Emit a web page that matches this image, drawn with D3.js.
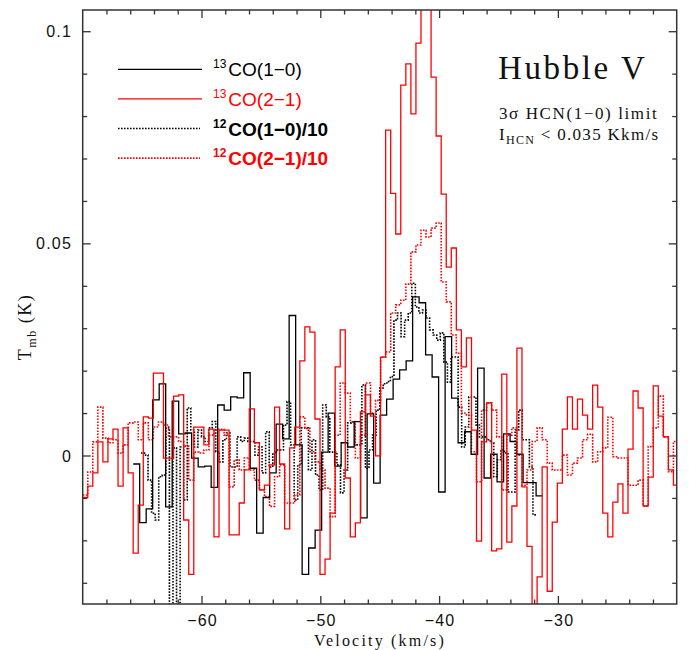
<!DOCTYPE html>
<html>
<head>
<meta charset="utf-8">
<style>
  body { margin: 0; background: #fff; }
  svg .tick line { stroke: #333; stroke-width: 1.3px; }
  svg .tick text { display: none; }
  svg .frame { fill: none; stroke: #333; stroke-width: 1.5px; }
  svg .spec { fill: none; stroke-width: 1.3px; stroke-linejoin: miter; }
  svg .dot { stroke-dasharray: 1.6, 1.4; stroke-width: 1.6px; }
  svg .ticklab { font: 16px "Liberation Sans", sans-serif; letter-spacing: 1.2px; fill: #111; }
  svg .serif { font-family: "Liberation Serif", serif; fill: #111; }
  svg .leg { font: 19px "Liberation Sans", sans-serif; }
</style>
</head>
<body>
<script src="https://d3js.org/d3.v7.min.js"></script>
<script>
// axis limits and ticks
var xDomain = [-70, -20],
    yDomain = [-0.035, 0.105];
var xTickVals = [-60, -50, -40, -30];
var xTickLabels = ["\u221260", "\u221250", "\u221240", "\u221230"];
var yTickVals = [0, 0.05, 0.1];
var yTickLabels = ["0", "0.05", "0.1"];

// 13CO(2-1): channels start at -70 km/s, 0.425 km/s wide
var co13_21_start = -70, co13_21_width = 0.425;
var co13_21 = [
  -0.0099, -0.0072, -0.0041, 0.0032, -0.0015, 0.0039, 0.0062, -0.0072, 0.0065, -0.0041,
  -0.0230, -0.0117, 0.0091, 0.0088, 0.0194, 0.0194, -0.0006, -0.0006, 0.0140, 0.0143,
  -0.0152, -0.0280, 0.0067, 0.0067, 0.0025, 0.0062, -0.0192, 0.0060, 0.0060, -0.0187,
  -0.0187, -0.0112, -0.0034, 0.0110, 0.0030, -0.0081, -0.0070, -0.0022, 0.0114, -0.0020,
  -0.0173, 0.0018, 0.0067, 0.0223, 0.0303, 0.0291, 0.0086, -0.0280, -0.0244, -0.0136,
  0.0209, 0.0296, -0.0053, -0.0192, -0.0159, 0.0103, 0.0143, 0.0093, -0.0001, 0.0232,
  0.0767, 0.0618, 0.0522, 0.0873, 0.0923, 0.0805, 0.0972, 0.1150, 0.1120, 0.0892,
  0.0753, 0.0616, 0.0444, 0.0489, 0.0296, 0.0209, 0.0277, 0.0060, -0.0202, 0.0032,
  0.0124, -0.0225, -0.0220, 0.0192, -0.0204, -0.0119, 0.0253, -0.0074, -0.0214, -0.0400,
  -0.0286, -0.0027, -0.0320, -0.0157, -0.0065, 0.0062, 0.0138, 0.0062, 0.0133, 0.0095,
  0.0062, 0.0166, 0.0114, -0.0136, -0.0192, -0.0110, -0.0067, -0.0136, 0.0015, 0.0152,
  0.0112, -0.0119, -0.0051, 0.0164, 0.0093, 0.0044, -0.0034, -0.0070
];

// 12CO(2-1)/10, same channel grid
var co12_21_start = -70, co12_21_width = 0.425;
var co12_21 = [
  -0.0093, -0.0039, 0.0032, 0.0114, 0.0041, 0.0030, 0.0037, 0.0006, 0.0025, 0.0077,
  0.0079, 0.0037, 0.0077, 0.0037, 0.0067, 0.0079, 0.0072, 0.0044, 0.0044, 0.0033,
  0.0022, -0.0058, 0.0008, 0.0006, 0.0013, 0.0048, 0.0060, 0.0062, 0.0048, -0.0074,
  -0.0011, -0.0034, -0.0006, -0.0034, -0.0058, -0.0081, -0.0097, -0.0120, -0.0050, -0.0022,
  -0.0112, -0.0112, -0.0093, 0.0091, 0.0064, 0.0009, -0.0015, -0.0034, -0.0077, -0.0144,
  0.0048, 0.0171, 0.0147, 0.0080, -0.0006, 0.0048, 0.0171, 0.0100, 0.0130, 0.0232,
  0.0244, 0.0336, 0.0355, 0.0366, 0.0404, 0.0480, 0.0496, 0.0531, 0.0515, 0.0536,
  0.0548, 0.0409, 0.0362, 0.0284, 0.0241, 0.0100, 0.0095, 0.0009, -0.0062, 0.0107,
  0.0124, 0.0107, 0.0044, -0.0081, 0.0048, 0.0065, 0.0001, -0.0070, -0.0034, 0.0033,
  0.0065, 0.0037, -0.0018, -0.0034, -0.0034, 0.0001, -0.0046, -0.0018, -0.0006, 0.0037,
  0.0050, -0.0015, 0.0009, 0.0018, 0.0090, -0.0003, -0.0006, -0.0006, -0.0070, -0.0070,
  -0.0058, -0.0119, 0.0021, 0.0065, 0.0140, 0.0044, -0.0038, 0.0033
];

// 13CO(1-0): channels start at -65.75 km/s, 0.547 km/s wide
var co13_10_start = -65.75, co13_10_width = 0.547;
var co13_10 = [
  -0.0020, -0.0158, -0.0126, 0.0131, 0.0169, -0.0121, 0.0128, 0.0051, 0.0053, -0.0006,
  -0.0027, -0.0025, -0.0075, 0.0119, 0.0107, 0.0138, 0.0136, 0.0195, -0.0030, -0.0183,
  -0.0099, -0.0041, 0.0074, 0.0039, 0.0330, 0.0025, -0.0280, -0.0218, -0.0176, 0.0008,
  0.0100, -0.0025, 0.0030, 0.0020, 0.0080, -0.0147, 0.0098, -0.0065, 0.0095, 0.0133,
  0.0180, 0.0202, 0.0223, 0.0374, 0.0360, 0.0237, 0.0185, -0.0086, 0.0280, 0.0135,
  0.0030, 0.0056, 0.0003, 0.0206, -0.0053, 0.0003, -0.0062, 0.0051, 0.0033, 0.0003,
  -0.0064, -0.0064, -0.0095
];

// 12CO(1-0)/10: channels start at -65.1 km/s, 0.3 km/s wide
var co12_10_start = -65.1, co12_10_width = 0.3;
var co12_10 = [
  0.0006, 0.0001, -0.0058, -0.0136, -0.0152, -0.0050, -0.0046, 0.0065, -0.0500, 0.0018,
  -0.0500, 0.0020, -0.0105, 0.0112, 0.0060, 0.0020, 0.0060, 0.0044, 0.0033, 0.0065,
  0.0080, 0.0009, -0.0015, 0.0037, 0.0053, -0.0027, -0.0027, 0.0044, 0.0033, 0.0041,
  0.0033, 0.0033, 0.0001, 0.0020, -0.0041, 0.0056, -0.0027, 0.0006, 0.0013, 0.0013,
  0.0072, 0.0127, 0.0025, -0.0105, -0.0022, 0.0065, 0.0065, -0.0034, 0.0037, -0.0046,
  -0.0081, 0.0119, 0.0091, 0.0008, 0.0008, -0.0022, -0.0088, -0.0034, 0.0077, 0.0079,
  0.0025, 0.0025, 0.0166, -0.0030, 0.0013, 0.0048, 0.0107, 0.0159, 0.0169, 0.0174,
  0.0186, 0.0319, 0.0336, 0.0280, 0.0319, 0.0336, 0.0406, 0.0350, 0.0336, 0.0343,
  0.0324, 0.0296, 0.0284, 0.0272, 0.0289, 0.0220, 0.0173, 0.0232, 0.0232, 0.0114,
  0.0020, 0.0067, 0.0138, 0.0138, 0.0072, 0.0044, 0.0044, 0.0037, 0.0030, -0.0050,
  -0.0010, 0.0013, 0.0006, -0.0086, -0.0086, 0.0060, 0.0107, 0.0037, 0.0037, -0.0027,
  -0.0140
];

var legendLabels = [
  { sup: "13", main: "CO(1\u22120)", color: "#000", dotted: false, bold: false },
  { sup: "13", main: "CO(2\u22121)", color: "#f00", dotted: false, bold: false },
  { sup: "12", main: "CO(1\u22120)/10", color: "#000", dotted: true, bold: true },
  { sup: "12", main: "CO(2\u22121)/10", color: "#f00", dotted: true, bold: true }
];

var width = 689, height = 650;
var plot = { left: 82.7, right: 676.7, top: 10, bottom: 604 };

var svg = d3.select("body").append("svg")
    .attr("width", width)
    .attr("height", height);

var x = d3.scaleLinear().domain(xDomain).range([plot.left, plot.right]);
var y = d3.scaleLinear().domain(yDomain).range([plot.bottom, plot.top]);

svg.append("clipPath").attr("id", "clip")
  .append("rect")
    .attr("x", plot.left).attr("y", plot.top)
    .attr("width", plot.right - plot.left)
    .attr("height", plot.bottom - plot.top);

// histogram style spectra
function steps(v0, dv, vals) {
  var pts = [];
  vals.forEach(function (t, i) {
    pts.push([v0 + i * dv, t]);
    pts.push([v0 + (i + 1) * dv, t]);
  });
  return pts;
}
var line = d3.line()
  .x(function (d) { return x(d[0]); })
  .y(function (d) { return y(d[1]); });

var spectra = [
  { pts: steps(co12_10_start, co12_10_width, co12_10), color: "#000", dotted: true },
  { pts: steps(co12_21_start, co12_21_width, co12_21), color: "#f00", dotted: true },
  { pts: steps(co13_10_start, co13_10_width, co13_10), color: "#000", dotted: false },
  { pts: steps(co13_21_start, co13_21_width, co13_21), color: "#f00", dotted: false }
];

var specG = svg.append("g").attr("clip-path", "url(#clip)");
spectra.forEach(function (s) {
  specG.append("path")
    .attr("class", s.dotted ? "spec dot" : "spec")
    .attr("d", line(s.pts))
    .style("stroke", s.color);
});

// ticks on all four sides, pointing inwards
var xMinor = d3.range(-70, -19, 2).filter(function (v) { return v % 10 !== 0; });
var yMinor = d3.range(-3, 11).map(function (v) { return v / 100; })
  .filter(function (v) { return yTickVals.indexOf(v) < 0; });

function addAxis(axis, tx, ty) {
  var g = svg.append("g")
    .attr("transform", "translate(" + tx + "," + ty + ")")
    .call(axis.tickSizeOuter(0).tickFormat(""));
  g.select(".domain").remove();
}
addAxis(d3.axisBottom(x).tickValues(xTickVals).tickSizeInner(-8), 0, plot.bottom);
addAxis(d3.axisBottom(x).tickValues(xMinor).tickSizeInner(-4.5), 0, plot.bottom);
addAxis(d3.axisTop(x).tickValues(xTickVals).tickSizeInner(-8), 0, plot.top);
addAxis(d3.axisTop(x).tickValues(xMinor).tickSizeInner(-4.5), 0, plot.top);
addAxis(d3.axisLeft(y).tickValues(yTickVals).tickSizeInner(-8), plot.left, 0);
addAxis(d3.axisLeft(y).tickValues(yMinor).tickSizeInner(-4.5), plot.left, 0);
addAxis(d3.axisRight(y).tickValues(yTickVals).tickSizeInner(-8), plot.right, 0);
addAxis(d3.axisRight(y).tickValues(yMinor).tickSizeInner(-4.5), plot.right, 0);

svg.append("rect")
    .attr("class", "frame")
    .attr("x", plot.left).attr("y", plot.top)
    .attr("width", plot.right - plot.left)
    .attr("height", plot.bottom - plot.top);

// tick labels
svg.selectAll("text.xlab")
  .data(xTickVals)
  .enter().append("text")
    .attr("class", "ticklab")
    .attr("x", function (d) { return x(d) + 1; })
    .attr("y", 626)
    .attr("text-anchor", "middle")
    .text(function (d, i) { return xTickLabels[i]; });

svg.selectAll("text.ylab")
  .data(yTickVals)
  .enter().append("text")
    .attr("class", "ticklab")
    .attr("x", 72)
    .attr("y", function (d) { return y(d) + 6; })
    .attr("text-anchor", "end")
    .text(function (d, i) { return yTickLabels[i]; });

// axis titles
svg.append("text")
    .attr("class", "serif")
    .attr("x", 380).attr("y", 645.5)
    .attr("text-anchor", "middle")
    .style("font-size", "16px")
    .style("letter-spacing", "2.2px")
    .text("Velocity (km/s)");

var yt = svg.append("text")
    .attr("class", "serif")
    .attr("transform", "translate(31,327) rotate(-90)")
    .attr("text-anchor", "middle")
    .style("font-size", "18px")
    .style("letter-spacing", "1.5px");
yt.append("tspan").text("T");
yt.append("tspan").attr("dy", 5).style("font-size", "12px").text("mb");
yt.append("tspan").attr("dy", -5).text(" (K)");

// legend
var leg = svg.selectAll("g.legend")
  .data(legendLabels)
  .enter().append("g")
    .attr("transform", function (d, i) { return "translate(0," + (69.3 + i * 29.6) + ")"; });
leg.append("line")
    .attr("x1", 118).attr("x2", function (d) { return d.dotted ? 200 : 202; })
    .attr("y1", 0).attr("y2", 0)
    .attr("class", function (d) { return d.dotted ? "spec dot" : "spec"; })
    .style("stroke", function (d) { return d.color; });
var lt = leg.append("text")
    .attr("class", "leg")
    .attr("x", 213).attr("y", 7)
    .style("fill", function (d) { return d.color; })
    .style("font-weight", function (d) { return d.bold ? "bold" : "normal"; });
lt.append("tspan")
    .attr("dy", -8)
    .style("font-size", "12px")
    .text(function (d) { return d.sup; });
lt.append("tspan")
    .attr("dy", 8)
    .attr("dx", 2)
    .text(function (d) { return d.main; });

// annotation
svg.append("text")
    .attr("class", "serif")
    .attr("x", 498).attr("y", 79)
    .style("font-size", "33px")
    .style("letter-spacing", "2.6px")
    .text("Hubble V");

svg.append("text")
    .attr("class", "serif")
    .attr("x", 499).attr("y", 119)
    .style("font-size", "17px")
    .style("letter-spacing", "1.6px")
    .text("3\u03c3 HCN(1\u22120) limit");

var lim = svg.append("text")
    .attr("class", "serif")
    .attr("x", 499).attr("y", 140)
    .style("font-size", "17px")
    .style("letter-spacing", "1.3px");
lim.append("tspan").text("I");
lim.append("tspan").attr("dy", 4).style("font-size", "12px").text("HCN");
lim.append("tspan").attr("dy", -4).text(" < 0.035 Kkm/s");
</script>
</body>
</html>
